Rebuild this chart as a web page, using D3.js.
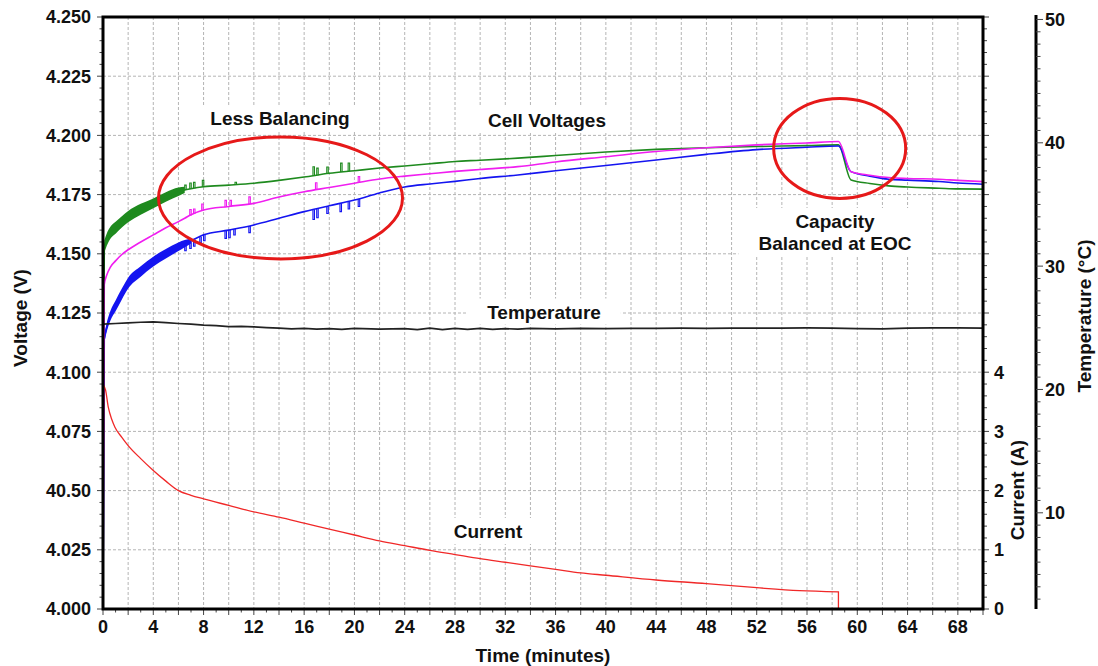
<!DOCTYPE html>
<html><head><meta charset="utf-8">
<script src="https://cdn.jsdelivr.net/npm/d3@7"></script>
<style>
body{margin:0;background:#fff}
svg{display:block;font-family:"Liberation Sans",Arial,sans-serif;font-weight:bold}
</style>
</head><body>
<svg id="c" width="1098" height="666"></svg>
<script>
// ---------------- DATA ----------------
const timeTickValues = [0,4,8,12,16,20,24,28,32,36,40,44,48,52,56,60,64,68];
const voltTickValues = [4.000,4.025,4.050,4.075,4.100,4.125,4.150,4.175,4.200,4.225,4.250];
const voltTickLabels = ["4.000","4.025","40.50","4.075","4.100","4.125","4.150","4.175","4.200","4.225","4.250"];
const currentTickValues = [0,1,2,3,4];
const tempTickValues = [10,20,30,40,50];

const cellTime = [0,0.1,0.3,0.6,1,1.5,2,3,4,5,6,6.5,7,8,10,12,14,16,18,20,22,24,26,28,30,33,36,40,44,48,52,56,58.5,59.5,61,62.5,64,66.5,68,70];
const cellGreen = [4.000,4.153,4.156,4.159,4.161,4.1635,4.1657,4.1688,4.1713,4.174,4.1762,4.177,4.1775,4.1783,4.179,4.1798,4.181,4.1824,4.184,4.1851,4.1862,4.1871,4.188,4.189,4.1895,4.1904,4.1915,4.193,4.1941,4.1948,4.1953,4.1957,4.196,4.1812,4.1797,4.1787,4.1782,4.1777,4.1774,4.1773];
const cellMagenta = [4.000,4.137,4.141,4.1445,4.147,4.1497,4.1517,4.155,4.158,4.161,4.1636,4.165,4.1665,4.1685,4.170,4.1713,4.174,4.1762,4.178,4.1798,4.1816,4.1828,4.1838,4.1848,4.1856,4.1868,4.1888,4.191,4.1932,4.1948,4.196,4.1968,4.1974,4.1847,4.1832,4.1822,4.1818,4.1815,4.181,4.1805];
const cellBlue = [4.000,4.114,4.119,4.124,4.128,4.133,4.1376,4.1425,4.1467,4.150,4.153,4.1543,4.1555,4.158,4.160,4.1622,4.165,4.1678,4.1703,4.1727,4.1757,4.1782,4.1795,4.1806,4.1818,4.1833,4.1851,4.1873,4.1896,4.192,4.194,4.195,4.1955,4.1847,4.1828,4.1815,4.1811,4.1805,4.1799,4.1794];
// ripple half-width (V) of the noisy early part
const greenRipple = [0,0.0026,0.0026,0.0025,0.0025,0.0024,0.0024,0.0023,0.0021,0.002,0.0018,0.0013,0,0,0,0,0,0,0,0,0,0,0,0,0,0,0,0,0,0,0,0,0,0,0,0,0,0,0,0];
const blueRipple  = [0,0.0016,0.0019,0.0021,0.0023,0.0023,0.0023,0.0022,0.0021,0.002,0.0018,0.0015,0.0011,0,0,0,0,0,0,0,0,0,0,0,0,0,0,0,0,0,0,0,0,0,0,0,0,0,0,0];

const greenSpikeT  = [6.5,6.9,7.2,7.9,10.5,16.7,17.0,17.8,18.9,19.5];
const greenSpikeDv = [0.002,0.0025,0.0025,0.0028,0.001,0.0038,0.003,0.0028,0.0038,0.0035];
const magentaSpikeT  = [6.9,7.2,7.85,9.7,10.1,11.6,16.9,20.3];
const magentaSpikeDv = [0.0025,0.002,0.0028,0.0028,0.0025,0.003,0.003,0.0025];
const blueSpikeT  = [6.5,6.9,7.2,7.7,8.0,9.7,10.0,10.4,11.6,16.7,17.0,17.8,18.85,19.5,20.3];
const blueSpikeDv = [-0.003,-0.003,-0.0028,-0.0025,-0.0025,-0.0032,-0.0032,-0.0025,-0.0028,-0.0042,-0.0038,-0.003,-0.0035,-0.0032,-0.0032];

const currentTime = [0,0.05,0.2,0.42,0.7,0.95,1.5,2,3,4,5,6,7,8,10,12,14,16,18,20,22,24,26,28,30,32,34,36,38,40,44,48,52,55.4,58.5,58.5];
const currentA    = [0,3.78,3.7,3.41,3.2,3.07,2.9,2.76,2.54,2.34,2.16,2.0,1.92,1.86,1.75,1.64,1.55,1.45,1.35,1.25,1.15,1.07,0.99,0.92,0.85,0.79,0.73,0.67,0.61,0.57,0.49,0.43,0.36,0.31,0.29,0];

const tempTime = [0,1,2,3,4,5,6,7,8,9,10,11,12,13,14,15,16,17,18,19,20,22,24,25,26,27,28,29,30,31,32,33,34,36,38,40,42,44,46,48,50,52,54,56,58,60,62,64,66,68,70];
const tempC    = [25.3,25.35,25.4,25.45,25.48,25.42,25.35,25.3,25.22,25.18,25.1,25.12,25.08,25.02,24.98,24.92,24.95,24.9,24.93,24.88,24.95,24.9,24.93,24.85,24.97,24.86,24.96,24.87,24.95,24.88,24.93,24.9,24.95,24.92,24.95,24.93,24.96,24.95,24.97,24.96,24.98,24.97,24.98,25.0,24.98,24.93,24.92,24.98,25.0,24.99,24.98];

// ---------------- LAYOUT ----------------
const L = 103, R = 983, T = 17, B = 609;
const svg = d3.select("#c");
const x = d3.scaleLinear().domain([0,70]).range([L,R]);
const y = d3.scaleLinear().domain([4.0,4.25]).range([B,T]);
const yI = d3.scaleLinear().domain([0,10]).range([B,T]);
const yT = d3.scaleLinear().domain([2.2,50.2]).range([B,T]);
const FS = 18, FA = 19;

// grid
const grid = svg.append("g").attr("stroke","#b4b4b4").attr("stroke-width",1).attr("stroke-dasharray","3,2");
d3.range(2,70,2).forEach(t => grid.append("line").attr("x1",x(t)).attr("x2",x(t)).attr("y1",T).attr("y2",B));
voltTickValues.slice(1,-1).forEach(v => grid.append("line").attr("x1",L).attr("x2",R).attr("y1",y(v)).attr("y2",y(v)));

// annotation labels with white backgrounds
const notes = [
  {lines:["Less Balancing"], cx:280, by:[125]},
  {lines:["Cell Voltages"], cx:547, by:[127]},
  {lines:["Capacity","Balanced at EOC"], cx:835, by:[228,249.5]},
  {lines:["Temperature"], cx:544, by:[318.5]},
  {lines:["Current"], cx:488, by:[538]}
];
const noteG = svg.append("g");
notes.forEach(n => {
  const g = noteG.append("g");
  const rect = g.append("rect").attr("fill","#fff");
  n.lines.forEach((s,i) => g.append("text").attr("x",n.cx).attr("y",n.by[i]).attr("text-anchor","middle").attr("font-size",FA).attr("fill","#111").text(s));
  const bb = g.node().getBBox();
  rect.attr("x",bb.x-20).attr("y",bb.y-3).attr("width",bb.width+40).attr("height",bb.height+5);
});

// clip
svg.append("clipPath").attr("id","clip").append("rect").attr("x",L).attr("y",T).attr("width",R-L).attr("height",B-T);
const plot = svg.append("g").attr("clip-path","url(#clip)");

const idx = d3.range(cellTime.length);
function drawCell(vals, ripple, color, spT, spDv){
  if (ripple){
    const area = d3.area().curve(d3.curveMonotoneX)
      .x(i => x(cellTime[i])).y0(i => y(vals[i]-ripple[i])).y1(i => y(vals[i]+ripple[i]));
    plot.append("path").attr("d",area(idx.filter(i=>ripple[i]>0))).attr("fill",color);
  }
  const line = d3.line().curve(d3.curveMonotoneX).x(i => x(cellTime[i])).y(i => y(vals[i]));
  plot.append("path").attr("d",line(idx)).attr("fill","none").attr("stroke",color).attr("stroke-width",1.6);
  const interp = d3.scaleLinear().domain(cellTime).range(vals);
  const sl = d3.line().x(d=>x(d[0])).y(d=>y(d[1]));
  spT.forEach((t,i) => {
    const b = interp(t), top = b + spDv[i];
    plot.append("path").attr("d", sl([[t,b],[t,top],[t+0.12,top],[t+0.12,b]]))
      .attr("fill","none").attr("stroke",color).attr("stroke-width",1.1);
  });
}
drawCell(cellGreen, greenRipple, "#1e8a1e", greenSpikeT, greenSpikeDv);
drawCell(cellBlue, blueRipple, "#1414f0", blueSpikeT, blueSpikeDv);
drawCell(cellMagenta, null, "#f01ef0", magentaSpikeT, magentaSpikeDv);

// temperature
plot.append("path").attr("d", d3.line().x((d,i)=>x(tempTime[i])).y((d,i)=>yT(tempC[i]))(tempC))
  .attr("fill","none").attr("stroke","#222").attr("stroke-width",1.7);

// current: smooth part then the final drop
const cIdx = d3.range(currentTime.length);
const cLine = d3.line().curve(d3.curveMonotoneX).x(i=>x(currentTime[i])).y(i=>yI(currentA[i]));
const cLin = d3.line().x(i=>x(currentTime[i])).y(i=>yI(currentA[i]));
plot.append("path").attr("d", cLin(cIdx.slice(0,2)) + cLine(cIdx.slice(1,-1)).replace(/^M/,"L") + cLin(cIdx.slice(-2)).replace(/^M/,"L"))
  .attr("fill","none").attr("stroke","#f02828").attr("stroke-width",1.3);

// ellipses
svg.append("ellipse").attr("cx",x(14.12)).attr("cy",y(4.1736)).attr("rx",122).attr("ry",61)
  .attr("fill","none").attr("stroke","#e61919").attr("stroke-width",3);
svg.append("ellipse").attr("cx",x(58.6)).attr("cy",y(4.1945)).attr("rx",66).attr("ry",50)
  .attr("fill","none").attr("stroke","#e61919").attr("stroke-width",3);

// ticks
const tk = svg.append("g").attr("stroke","#444").attr("stroke-width",1);
d3.range(0,51).forEach(k => {
  const v = 4 + k*0.005, yy = y(v), major = k%5===0;
  tk.append("line").attr("x1",L).attr("x2",L-(major?6:3.5)).attr("y1",yy).attr("y2",yy);
  tk.append("line").attr("x1",R).attr("x2",R+(major?6:4)).attr("y1",yy).attr("y2",yy);
});
d3.range(0,71).forEach(t => {
  const major = t%2===0;
  tk.append("line").attr("x1",x(t)).attr("x2",x(t)).attr("y1",B).attr("y2",B+(major?6:3.5));
});

// frame
svg.append("rect").attr("x",L).attr("y",T).attr("width",R-L).attr("height",B-T)
  .attr("fill","none").attr("stroke","#000").attr("stroke-width",3);

// left labels
voltTickValues.forEach((v,i) => svg.append("text").attr("x",91).attr("y",y(v)).attr("dy","0.36em")
  .attr("text-anchor","end").attr("font-size",FS).attr("fill","#111").text(voltTickLabels[i]));
// bottom labels
timeTickValues.forEach(t => svg.append("text").attr("x",x(t)).attr("y",633)
  .attr("text-anchor","middle").attr("font-size",FS).attr("fill","#111").text(t));
// current labels
currentTickValues.forEach(c => svg.append("text").attr("x",994).attr("y",yI(c)).attr("dy","0.36em")
  .attr("font-size",FS).attr("fill","#111").text(c));

// temperature axis
const TX = 1036;
svg.append("line").attr("x1",TX).attr("x2",TX).attr("y1",T-2).attr("y2",B).attr("stroke","#000").attr("stroke-width",3);
d3.range(3,51).forEach(tc => {
  const major = tc%10===0;
  svg.append("line").attr("x1",TX).attr("x2",TX+(major?7:4.5)).attr("y1",yT(tc)).attr("y2",yT(tc))
    .attr("stroke","#444").attr("stroke-width",1);
});
tempTickValues.forEach(tc => svg.append("text").attr("x",1045).attr("y",yT(tc)).attr("dy","0.36em")
  .attr("font-size",FS).attr("fill","#111").text(tc));

// axis titles
svg.append("text").attr("transform","translate(27,318) rotate(-90)").attr("text-anchor","middle")
  .attr("font-size",FA).attr("fill","#111").text("Voltage (V)");
svg.append("text").attr("x",543).attr("y",662).attr("text-anchor","middle")
  .attr("font-size",FA).attr("fill","#111").text("Time (minutes)");
svg.append("text").attr("transform","translate(1024,490) rotate(-90)").attr("text-anchor","middle")
  .attr("font-size",FA).attr("fill","#111").text("Current (A)");
svg.append("text").attr("transform","translate(1091,316) rotate(-90)").attr("text-anchor","middle")
  .attr("font-size",FA).attr("fill","#111").text("Temperature (°C)");
</script>
</body></html>
